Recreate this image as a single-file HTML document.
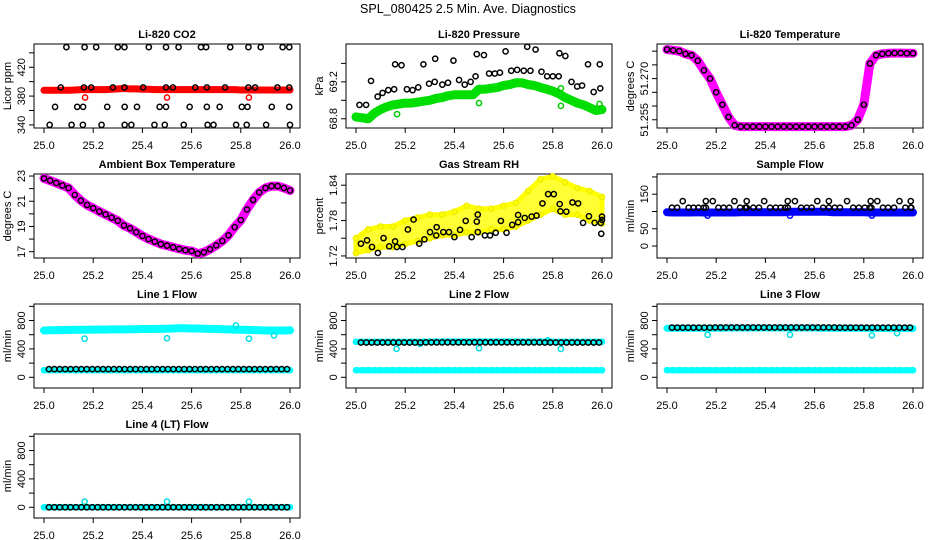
<!DOCTYPE html>
<html><head><meta charset="utf-8"><style>
html,body{margin:0;padding:0;background:#fff;}
svg{display:block;font-family:"Liberation Sans",Arial,sans-serif;}
</style></head><body>
<svg id="chart" xmlns="http://www.w3.org/2000/svg" width="936" height="540" viewBox="0 0 936 540">
<rect x="0" y="0" width="936" height="540" fill="#fff"/>
<text x="468" y="13" text-anchor="middle" font-size="12.5">SPL_080425  2.5 Min. Ave. Diagnostics</text>
</svg>
<script>
// ---------- data ----------
const co2BlackT=[25.091,25.165,25.212,25.300,25.327,25.426,25.496,25.547,25.638,25.659,25.757,25.831,25.881,25.970,25.997,
25.068,25.162,25.192,25.280,25.327,25.403,25.496,25.524,25.615,25.662,25.736,25.831,25.858,25.949,25.997,
25.045,25.135,25.159,25.257,25.328,25.378,25.470,25.496,25.592,25.662,25.714,25.804,25.827,25.926,25.997,
25.023,25.112,25.158,25.234,25.328,25.355,25.449,25.491,25.568,25.665,25.689,25.781,25.824,25.903,26.0];
const co2BlackV=[448,448,448,448,448,448,448,448,448,448,448,448,448,448,448,
392,392,392,392,392,392,392,392,392,392,392,392,392,392,392,
365,365,365,365,365,365,365,365,365,365,365,365,365,365,365,
340,340,340,340,340,340,340,340,340,340,340,340,340,340,340];
const co2RedV=[388,388,388,388,388,388.5,389,389,389,389,389,389.5,390,390.5,390,390,389.5,389.5,389,389,389,389,389,389,389,389,389,389,389,389,389,389,388.5,388.5,388.5,388.5,388.5,388.5,388.5,388.5,388.5];
const co2RedOutT=[25.167,25.5,25.833];
const co2RedOutV=[378,378,378];

const presGreenV=[68.82,68.81,68.80,68.86,68.90,68.93,68.95,68.96,68.97,68.97,68.98,68.99,69.00,69.02,69.03,69.05,69.06,69.06,69.06,69.06,69.12,69.12,69.13,69.14,69.16,69.17,69.19,69.19,69.17,69.16,69.14,69.12,69.10,69.07,69.03,69.00,68.97,68.95,68.92,68.89,68.90];
const presGreenOutT=[25.167,25.5,25.833,25.833,25.99];
const presGreenOutV=[68.85,68.97,68.94,69.13,68.96];
const presBlackT=[25.014,25.041,25.061,25.088,25.108,25.131,25.155,25.159,25.185,25.207,25.230,25.253,25.274,25.297,25.320,25.322,25.351,25.374,25.396,25.419,25.442,25.466,25.486,25.491,25.520,25.541,25.564,25.585,25.608,25.631,25.655,25.682,25.696,25.709,25.730,25.754,25.777,25.800,25.824,25.827,25.851,25.876,25.899,25.919,25.943,25.966,25.991,25.993];
const presBlackV=[68.95,68.95,69.21,69.04,69.08,69.11,69.12,69.39,69.38,69.12,69.11,69.14,69.39,69.18,69.20,69.45,69.17,69.19,69.43,69.22,69.17,69.20,69.26,69.50,69.49,69.29,69.29,69.30,69.53,69.32,69.33,69.32,69.58,69.32,69.55,69.31,69.26,69.26,69.26,69.51,69.48,69.20,69.15,69.16,69.39,69.09,69.39,69.13];

const tempV=[51.2806,51.2803,51.2800,51.2790,51.2785,51.2765,51.2730,51.2700,51.2650,51.2605,51.2560,51.2530,51.2525,51.2525,51.2525,51.2525,51.2525,51.2525,51.2525,51.2525,51.2525,51.2525,51.2525,51.2525,51.2525,51.2525,51.2525,51.2525,51.2525,51.2525,51.2530,51.2550,51.2605,51.2755,51.2785,51.2790,51.2792,51.2793,51.2793,51.2792,51.2792];

const ambV=[22.81,22.64,22.45,22.25,22.05,21.5,21.05,20.7,20.45,20.18,19.95,19.7,19.45,19.08,18.85,18.55,18.25,18.0,17.8,17.6,17.48,17.35,17.22,17.12,17.05,16.85,16.95,17.2,17.5,17.85,18.3,18.95,19.5,20.35,21.1,21.7,22.05,22.2,22.2,22.05,21.85];

const rhBandT=[25.0,25.05,25.1,25.15,25.2,25.25,25.3,25.35,25.4,25.45,25.5,25.55,25.6,25.65,25.7,25.75,25.8,25.85,25.9,25.95,26.0];
const rhLow=[1.725,1.73,1.735,1.735,1.74,1.745,1.75,1.755,1.755,1.76,1.76,1.765,1.765,1.77,1.78,1.79,1.80,1.79,1.79,1.78,1.775];
const rhHigh=[1.75,1.765,1.77,1.77,1.78,1.785,1.79,1.79,1.795,1.805,1.80,1.80,1.805,1.81,1.83,1.85,1.855,1.845,1.835,1.83,1.82];
const rhBlackT=[25.020,25.045,25.065,25.089,25.112,25.135,25.159,25.166,25.189,25.211,25.234,25.257,25.278,25.301,25.326,25.328,25.355,25.378,25.400,25.423,25.446,25.470,25.491,25.495,25.495,25.524,25.545,25.568,25.589,25.612,25.635,25.659,25.659,25.686,25.714,25.734,25.758,25.781,25.804,25.828,25.831,25.855,25.880,25.903,25.923,25.947,25.970,25.995,25.997,26.0,26.0];
const rhBlackV=[1.7408,1.7464,1.7352,1.7251,1.7503,1.7363,1.7447,1.7352,1.7352,1.7649,1.7817,1.7408,1.7481,1.7604,1.7548,1.7688,1.7604,1.7604,1.752,1.7643,1.7794,1.752,1.7783,1.7901,1.7604,1.7548,1.7548,1.7593,1.7794,1.7593,1.7727,1.7772,1.7895,1.7845,1.7867,1.7884,1.8091,1.8248,1.8248,1.808,1.7957,1.7951,1.8108,1.8091,1.7761,1.7873,1.7761,1.7761,1.7576,1.7867,1.7811];

const sfBlueV=[98,97,97,97,97,98,97,97,97,97,97,97,98,98,98,98,98,98,98,98,99,99,99,99,99,99,99,98,98,98,98,98,98,97,97,97,97,97,97,97,97];
const sfBlueOutT=[25.165,25.5,25.833];
const sfBlueOutV=[88,88,88];
const sfBlackT=[25.020,25.041,25.088,25.108,25.128,25.149,25.158,25.209,25.230,25.253,25.297,25.318,25.324,25.351,25.374,25.419,25.442,25.462,25.480,25.491,25.545,25.568,25.588,25.635,25.658,25.682,25.703,25.757,25.780,25.804,25.824,25.831,25.878,25.899,25.923,25.969,25.991,25.993,
25.064,25.158,25.186,25.274,25.324,25.395,25.491,25.520,25.611,25.658,25.732,25.828,25.855,25.945,25.991];
const sfBlackV=[111,111,111,111,111,111,111,111,111,111,111,111,111,111,111,111,111,111,111,111,111,111,111,111,111,111,111,111,111,111,111,111,111,111,111,111,111,111,
130,130,130,130,130,130,130,130,130,130,130,130,130,130,130];

const l1High=[660,662,665,665,668,668,670,670,672,672,672,675,675,675,678,678,680,680,680,682,685,688,690,690,688,688,685,682,680,678,675,672,670,668,665,662,660,660,660,660,662];
const l1Low=[100,100,100,100,100,100,100,100,100,100,100,100,100,100,100,100,100,100,100,100,100,100,100,100,100,100,100,100,100,100,100,100,100,100,100,100,100,100,100,100,100];
const l1Black=[115,115,115,115,115,115,115,115,115,115,115,115,115,115,115,115,115,115,115,115,115,115,115,115,115,115,115,115,115,115,115,115,115,115,115,115,115,115,115,115,115,115,115,115,115];
const l1OutT=[25.165,25.5,25.78,25.833,25.935];
const l1OutV=[545,550,730,545,590];

const l2High=[500,500,500,500,500,500,500,500,500,502,502,502,503,503,505,505,505,505,505,505,505,505,505,505,505,505,505,503,503,503,503,502,502,500,500,500,500,500,500,500,500];
const l2Low=[100,100,100,100,100,100,100,100,100,100,100,100,100,100,100,100,100,100,100,100,100,100,100,100,100,100,100,100,100,100,100,100,100,100,100,100,100,100,100,100,100];
const l2Black=[490,490,490,490,490,490,490,490,490,490,490,490,492,492,492,492,492,492,492,492,492,492,492,492,492,492,492,492,492,492,492,492,492,492,490,490,490,490,490,490,490,490,490,490,490];
const l2OutT=[25.165,25.26,25.5,25.78,25.833];
const l2OutV=[400,470,410,520,400];

const l3High=[690,690,690,690,690,690,692,692,692,692,695,695,695,695,695,695,695,695,695,695,695,695,695,695,695,692,692,692,692,690,690,690,690,688,688,688,688,688,688,688,688];
const l3Low=[100,100,100,100,100,100,100,100,100,100,100,100,100,100,100,100,100,100,100,100,100,100,100,100,100,100,100,100,100,100,100,100,100,100,100,100,100,100,100,100,100];
const l3Black=[700,700,700,700,700,700,700,700,702,702,702,702,702,702,702,702,702,702,702,702,702,702,702,702,702,702,702,702,702,702,702,700,700,700,700,700,700,700,700,700,700,700,700,700,700];
const l3OutT=[25.165,25.5,25.833,25.935];
const l3OutV=[600,600,590,620];

const l4Low=[0,0,0,0,0,0,0,0,0,0,0,0,0,0,0,0,0,0,0,0,0,0,0,0,0,0,0,0,0,0,0,0,0,0,0,0,0,0,0,0,0];
const l4Black=[0,0,0,0,0,0,0,0,0,0,0,0,0,0,0,0,0,0,0,0,0,0,0,0,0,0,0,0,0,0,0,0,0,0,0,0,0,0,0,0,0,0,0,0,0];
const l4OutT=[25.165,25.5,25.833];
const l4OutV=[80,80,80];

const xTicks=[25.0,25.2,25.4,25.6,25.8,26.0];
const xTickLabels=["25.0","25.2","25.4","25.6","25.8","26.0"];

// time grids (sample times)
const grid41=[];for(let i=0;i<41;i++)grid41.push(25+i*0.025);
const grid45=[];for(let i=0;i<45;i++)grid45.push(25.02+i*0.022);

// ---------- drawing ----------
const NS="http://www.w3.org/2000/svg";
const svg=document.getElementById('chart');
const colL=[34,346,657], rowT=[44,174,304,434], PW=266, PH=84;
function el(tag,attrs,parent){const e=document.createElementNS(NS,tag);for(const k in attrs)e.setAttribute(k,attrs[k]);(parent||svg).appendChild(e);return e;}

function panel(col,row,key,title,ylab,ymin,ymax,yTicks,yLabels,yLabelText){
  const L=colL[col],T=rowT[row];
  const g=el('g',{});
  
  
  const sx=t=>L+10+(t-25)*246;
  const sy=v=>T+PH-(v-ymin)/(ymax-ymin)*PH;
  const tt=el('text',{x:L+PW/2,y:T-6,'text-anchor':'middle','font-size':11,'font-weight':'bold'},g);
  tt.textContent=title;
  
  
  const bx=el('rect',{x:L,y:T,width:PW,height:PH,fill:'none',stroke:'#000','stroke-width':1},g);
  
  
  xTicks.forEach((t,i)=>{
    el('line',{x1:sx(t),x2:sx(t),y1:T+PH,y2:T+PH+5,stroke:'#000'},g);
    const lb=el('text',{x:sx(t),y:T+PH+21,'text-anchor':'middle','font-size':11},g);
    lb.textContent=xTickLabels[i];
    
    
  });
  yTicks.forEach(v=>{el('line',{x1:L-5,x2:L,y1:sy(v),y2:sy(v),stroke:'#000'},g);});
  yLabels.forEach((v,i)=>{
    const lb=el('text',{x:0,y:0,'text-anchor':'middle','font-size':11,transform:`translate(${L-9},${sy(v)}) rotate(-90)`},g);
    lb.textContent=yLabelText[i];
    
    
  });
  const yl=el('text',{x:0,y:0,'text-anchor':'middle','font-size':11,transform:`translate(${L-23},${T+PH/2}) rotate(-90)`},g);
  yl.textContent=ylab;
  
  
  const clip=el('g',{},g);
  return {sx,sy,g:clip};
}
function band(p,ts,vs,color,name,w){
  const pts=ts.map((t,i)=>p.sx(t).toFixed(1)+','+p.sy(vs[i]).toFixed(1)).join(' ');
  const pl=el('polyline',{points:pts,fill:'none',stroke:color,'stroke-width':w||7,'stroke-linejoin':'round','stroke-linecap':'round'},p.g);
  
  
  pts2(p,ts,vs,color,name+'-point');
}
function pts2(p,ts,vs,color,name){
  ts.forEach((t,i)=>{
    const c=el('circle',{cx:p.sx(t),cy:p.sy(vs[i]),r:2.6,fill:'none',stroke:color,'stroke-width':1.5},p.g);
    
    
  });
}

let p=panel(0,0,'co2','Li-820 CO2','Licor ppm',335.7,452.3,[340,360,380,400,420,440],[340,380,420],["340","380","420"]);
band(p,grid41,co2RedV,'#ff0000','co2-red-series');
pts2(p,co2RedOutT,co2RedOutV,'#ff0000','co2-red-outlier');
pts2(p,co2BlackT,co2BlackV,'#000','co2-black-point');

p=panel(1,0,'pressure','Li-820 Pressure','kPa',68.70,69.61,[68.8,69.0,69.2,69.4],[68.8,69.2],["68.8","69.2"]);
band(p,grid41,presGreenV,'#00dd00','pressure-green-series',9);
pts2(p,presGreenOutT,presGreenOutV,'#00cc00','pressure-green-outlier');
pts2(p,presBlackT,presBlackV,'#000','pressure-black-point');

p=panel(2,0,'li820-temp','Li-820 Temperature','degrees C',51.2520,51.2826,[51.255,51.26,51.265,51.27,51.275,51.28],[51.255,51.270],["51.255","51.270"]);
band(p,grid41,tempV,'#ff00ff','li820-temp-magenta-series',9);
pts2(p,grid41,tempV,'#000','li820-temp-black-point');

p=panel(0,1,'ambient-temp','Ambient Box Temperature','degrees C',16.5,23.16,[17,18,19,20,21,22,23],[17,19,21,23],["17","19","21","23"]);
band(p,grid41,ambV,'#ff00ff','ambient-magenta-series',9);
pts2(p,grid41,ambV,'#000','ambient-black-point');

p=panel(1,1,'rh','Gas Stream RH','percent',1.7165,1.859,[1.72,1.75,1.78,1.81,1.84],[1.72,1.78,1.84],["1.72","1.78","1.84"]);
{
  const top=rhBandT.map((t,i)=>p.sx(t).toFixed(1)+','+p.sy(rhHigh[i]).toFixed(1));
  const bot=rhBandT.map((t,i)=>p.sx(t).toFixed(1)+','+p.sy(rhLow[i]).toFixed(1)).reverse();
  const pg=el('polygon',{points:top.concat(bot).join(' '),fill:'#ffff33',stroke:'#ffff00','stroke-width':5,'stroke-linejoin':'round'},p.g);
  
  
  pts2(p,rhBandT,rhHigh,'#eeee00','rh-yellow-point');
  pts2(p,rhBandT,rhLow,'#eeee00','rh-yellow-point');
}
pts2(p,rhBlackT,rhBlackV,'#000','rh-black-point');

p=panel(2,1,'sample-flow','Sample Flow','ml/min',-34.6,208.5,[0,50,100,150,200],[0,50,150],["0","50","150"]);
band(p,grid41,sfBlueV,'#0000ff','sample-flow-blue-series',8);
pts2(p,sfBlueOutT,sfBlueOutV,'#0000ff','sample-flow-blue-outlier');
pts2(p,sfBlackT,sfBlackV,'#000','sample-flow-black-point');

const fT=[0,200,400,600,800,1000], fL=[0,400,800], fLT=["0","400","800"];
p=panel(0,2,'line1','Line 1 Flow','ml/min',-151,1033,fT,fL,fLT);
band(p,grid41,l1High,'#00ffff','line1-cyan-high',8);
band(p,grid41,l1Low,'#00ffff','line1-cyan-low',6);
pts2(p,l1OutT,l1OutV,'#00e0e0','line1-cyan-outlier');
pts2(p,grid45,l1Black,'#000','line1-black-point');
p=panel(1,2,'line2','Line 2 Flow','ml/min',-151,1033,fT,fL,fLT);
band(p,grid41,l2High,'#00ffff','line2-cyan-high',6);
band(p,grid41,l2Low,'#00ffff','line2-cyan-low',6);
pts2(p,l2OutT,l2OutV,'#00e0e0','line2-cyan-outlier');
pts2(p,grid45,l2Black,'#000','line2-black-point');
p=panel(2,2,'line3','Line 3 Flow','ml/min',-151,1033,fT,fL,fLT);
band(p,grid41,l3High,'#00ffff','line3-cyan-high',7);
band(p,grid41,l3Low,'#00ffff','line3-cyan-low',6);
pts2(p,l3OutT,l3OutV,'#00e0e0','line3-cyan-outlier');
pts2(p,grid45,l3Black,'#000','line3-black-point');
p=panel(0,3,'line4','Line 4 (LT) Flow','ml/min',-151,1033,fT,fL,fLT);
band(p,grid41,l4Low,'#00ffff','line4-cyan-series',6);
pts2(p,l4OutT,l4OutV,'#00e0e0','line4-cyan-outlier');
pts2(p,grid45,l4Black,'#000','line4-black-point');
</script>
</body></html>
